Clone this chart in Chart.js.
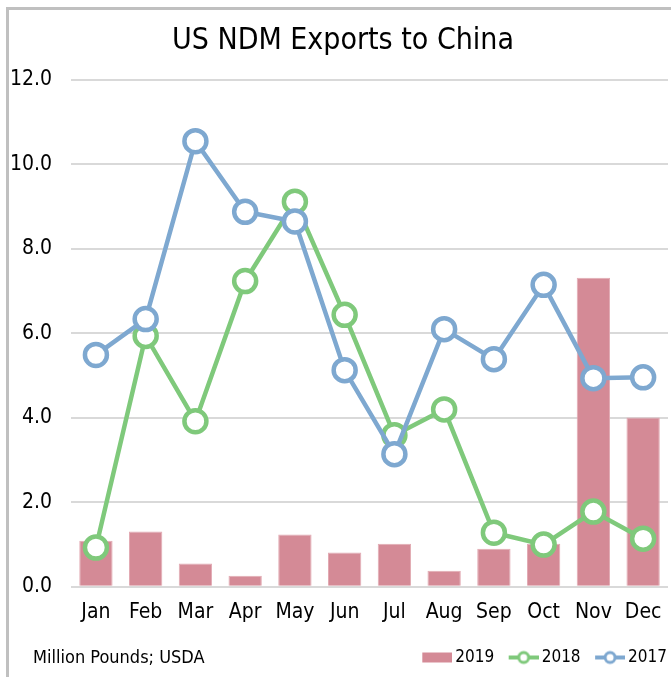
<!DOCTYPE html>
<html>
<head>
<meta charset="utf-8">
<script src="https://cdn.jsdelivr.net/npm/chart.js@4.4.1/dist/chart.umd.min.js"></script>
<style>
    body { margin: 0; background: #fff; }
    .wrap { position: relative; width: 671px; height: 677px; overflow: hidden; }
    .frame { position: absolute; left: 6px; top: 7px; width: 700px; height: 700px; border-left: 3px solid #c0c0c0; border-top: 3px solid #c0c0c0; }
    .note { position: absolute; left: 33px; top: 648px; font: 18px/1 "DejaVu Sans Condensed", "DejaVu Sans", sans-serif; color: #000; }
    canvas { position: absolute; left: 0; top: 0; }
</style>
</head>
<body>
<div class="wrap">
    <div class="frame"></div>
    <canvas id="ndm" width="671" height="677"></canvas>
    <div class="note">Million Pounds; USDA</div>
</div>
<script>
// ---------- data ----------
const months = ['Jan', 'Feb', 'Mar', 'Apr', 'May', 'Jun', 'Jul', 'Aug', 'Sep', 'Oct', 'Nov', 'Dec'];
const exports2019 = [1.09, 1.31, 0.55, 0.26, 1.24, 0.81, 1.02, 0.38, 0.90, 1.02, 7.32, 4.01];
const exports2018 = [0.93, 5.94, 3.92, 7.24, 9.12, 6.44, 3.59, 4.20, 1.28, 1.00, 1.78, 1.14];
const exports2017 = [5.49, 6.34, 10.55, 8.88, 8.65, 5.13, 3.14, 6.10, 5.39, 7.15, 4.94, 4.96];

const fontFamily = '"DejaVu Sans Condensed", "DejaVu Sans", sans-serif';
const pink = '#d48a96';
const green = '#7fc97b';
const blue = '#7ea8d0';

// legend icons: 30px mark at the right end of a wider canvas so it sits close to the text
const iconBox = 38;
function makeIcon (type, color) {
    var c = document.createElement('canvas');
    c.width = iconBox + 11;
    c.height = 16;
    var ctx = c.getContext('2d');
    var x0 = c.width - 30;
    if (type === 'bar') {
        ctx.fillStyle = color;
        ctx.fillRect(x0, 3, 30, 10);
    } else {
        ctx.strokeStyle = color;
        ctx.lineWidth = 4;
        ctx.beginPath();
        ctx.moveTo(x0, 8);
        ctx.lineTo(x0 + 30, 8);
        ctx.stroke();
        ctx.fillStyle = '#fff';
        ctx.lineWidth = 3;
        ctx.beginPath();
        ctx.arc(x0 + 15, 8, 5, 0, Math.PI * 2);
        ctx.fill();
        ctx.stroke();
    }
    return c;
}

const icons = [makeIcon('bar', pink), makeIcon('line', green), makeIcon('line', blue)];

// nudge the title a little to the right, like the original
const titleNudge = {
    id: 'titleNudge',
    afterLayout (chart) {
        chart.titleBlock.left += 4;
        chart.titleBlock.right += 4;
    }
};

const ndm = document.getElementById('ndm').getContext('2d');

new Chart(ndm, {
    type: 'bar',
    data: {
        labels: months,
        datasets: [{
            type: 'bar',
            label: '2019',
            data: exports2019,
            backgroundColor: pink,
            borderColor: '#e2aab3',
            borderWidth: 1,
            barPercentage: 0.67,
            categoryPercentage: 1,
            order: 2
        }, {
            type: 'line',
            label: '2018',
            data: exports2018,
            borderColor: green,
            borderWidth: 4.5,
            pointRadius: 11,
            pointBorderWidth: 4.5,
            pointBackgroundColor: '#fff',
            pointBorderColor: green,
            tension: 0,
            order: 1
        }, {
            type: 'line',
            label: '2017',
            data: exports2017,
            borderColor: blue,
            borderWidth: 4.5,
            pointRadius: 11,
            pointBorderWidth: 4.5,
            pointBackgroundColor: '#fff',
            pointBorderColor: blue,
            tension: 0,
            order: 0
        }]
    },
    options: {
        responsive: false,
        animation: false,
        layout: {
            autoPadding: false,
            padding: { left: 10, right: 3, top: 0, bottom: 1 }
        },
        plugins: {
            title: {
                display: true,
                text: 'US NDM Exports to China',
                color: '#000',
                font: { family: fontFamily, size: 30, weight: 'normal' },
                padding: { top: 23, bottom: 21 }
            },
            legend: {
                position: 'bottom',
                align: 'end',
                labels: {
                    color: '#000',
                    font: { family: fontFamily, size: 17 },
                    usePointStyle: true,
                    pointStyleWidth: iconBox,
                    padding: 1,
                    sort: (a, b) => a.datasetIndex - b.datasetIndex,
                    generateLabels: (chart) => chart.data.datasets.map((ds, i) => ({
                        text: ds.label,
                        pointStyle: icons[i],
                        fillStyle: 'transparent',
                        strokeStyle: 'transparent',
                        lineWidth: 0,
                        datasetIndex: i,
                        hidden: false
                    }))
                }
            },
            tooltip: { enabled: false }
        },
        scales: {
            x: {
                grid: { display: false },
                border: { display: false },
                ticks: {
                    color: '#000',
                    font: { family: fontFamily, size: 21 },
                    maxRotation: 0,
                    padding: 5
                },
                afterFit: (scale) => { scale.height += 18; }
            },
            y: {
                min: 0,
                max: 12,
                grid: { color: '#d9d9d9', lineWidth: 2, drawTicks: false },
                border: { display: false },
                ticks: {
                    stepSize: 2,
                    color: '#000',
                    font: { family: fontFamily, size: 21 },
                    padding: 19,
                    callback: (v) => v.toFixed(1)
                },
                // tick padding counts on both sides of the labels; drop the outer part
                afterFit: (scale) => { scale.width -= 19; }
            }
        }
    },
    plugins: [titleNudge]
});
</script>
</body>
</html>
